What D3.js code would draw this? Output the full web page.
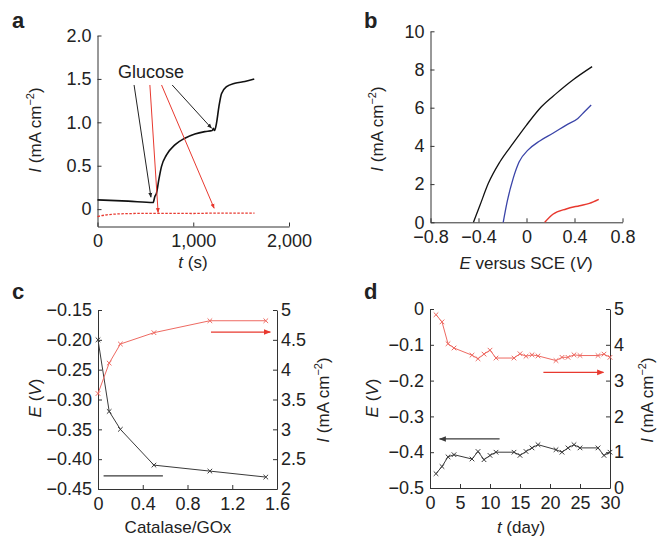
<!DOCTYPE html>
<html>
<head>
<meta charset="utf-8">
<script src="https://cdn.jsdelivr.net/npm/d3@7"></script>
<style>
  body { margin: 0; background: #fff; }
  text { font-family: "Liberation Sans", Arial, Helvetica, sans-serif; fill: #222; }
  .axis path, .axis line { stroke: #333; }
  .axis text { font-size: 18px; fill: #222; }
</style>
</head>
<body>
<div id="chart"></div>
<script>
// ---- panel a : current vs time ----
var aTime  = [0, 320, 581, 599, 616, 640, 668, 721, 808, 912, 1017, 1121, 1198, 1210, 1222, 1243, 1268, 1295, 1348, 1435, 1539, 1637];
var aBlack = [0.107, 0.092, 0.076, 0.145, 0.184, 0.337, 0.49, 0.625, 0.74, 0.817, 0.866, 0.893, 0.905, 0.93, 0.905, 0.99, 1.18, 1.33, 1.41, 1.45, 1.47, 1.50];
var aRedTime = [0, 100, 300, 600, 1000, 1200, 1640];
var aRed     = [-0.085, -0.065, -0.052, -0.048, -0.05, -0.046, -0.046];
// glucose arrows: [t0, I0, t1, I1, colour]
var aArrows = [[382, 1.43, 558, 0.138, "black"], [547, 1.43, 633, -0.039, "red"],
               [669, 1.43, 1218, 0.011, "red"], [780, 1.43, 1191, 0.932, "black"]];
var aYTicks = [0, 0.5, 1.0, 1.5, 2.0];
var aXTicks = [0, 1000, 2000];

// ---- panel b : polarisation curves ----
var bBlackE = [-0.442, -0.387, -0.318, -0.221, -0.111, 0.0, 0.124, 0.249, 0.386, 0.547];
var bBlackI = [0, 0.905, 2.04, 3.17, 4.14, 5.09, 6.05, 6.75, 7.45, 8.15];
var bBlueE  = [-0.194, -0.161, -0.111, -0.061, 0.014, 0.11, 0.22, 0.331, 0.428, 0.483, 0.539];
var bBlueI  = [0, 1.08, 2.3, 3.17, 3.79, 4.26, 4.66, 5.09, 5.44, 5.79, 6.14];
var bRedE   = [0.152, 0.22, 0.331, 0.442, 0.524, 0.602];
var bRedI   = [0, 0.42, 0.70, 0.87, 0.99, 1.2];
var bXTicks = [-0.8, -0.4, 0, 0.4, 0.8];
var bYTicks = [0, 2, 4, 6, 8, 10];

// ---- panel c : catalase / GOx ratio ----
var cRatio = [0, 0.1, 0.2, 0.5, 1.0, 1.5];
var cE     = [-0.20, -0.32, -0.35, -0.41, -0.42, -0.43];
var cI     = [3.6, 4.11, 4.43, 4.62, 4.82, 4.82];
var cXTicks = [0, 0.4, 0.8, 1.2, 1.6];
var cLTicks = [-0.45, -0.40, -0.35, -0.30, -0.25, -0.20, -0.15];
var cRTicks = [2, 2.5, 3, 3.5, 4, 4.5, 5];

// ---- panel d : stability over days ----
var dDay = [1, 2, 3, 4, 7, 8, 9, 10, 11, 14, 15, 16, 17, 18, 21, 22, 23, 24, 25, 28, 29, 30];
var dE   = [-0.46, -0.44, -0.413, -0.407, -0.419, -0.398, -0.421, -0.409, -0.40, -0.40, -0.409, -0.398,
            -0.388, -0.379, -0.393, -0.40, -0.388, -0.379, -0.388, -0.388, -0.409, -0.40];
var dI   = [4.84, 4.64, 4.03, 3.91, 3.71, 3.61, 3.74, 3.85, 3.63, 3.63, 3.75, 3.68,
            3.72, 3.69, 3.56, 3.65, 3.65, 3.72, 3.70, 3.70, 3.74, 3.65];
var dXTicks = [0, 5, 10, 15, 20, 25, 30];
var dLTicks = [-0.5, -0.4, -0.3, -0.2, -0.1, 0];
var dRTicks = [0, 1, 2, 3, 4, 5];

var RED = "#e8392f", LRED = "#ee6a62", BLUE = "#3a44a8", DARK = "#3a3a3a";

var svg = d3.select("#chart").append("svg")
  .attr("width", 659).attr("height", 538);

var defs = svg.append("defs");
[["ahBlack", "#222", 5], ["ahRed", RED, 5], ["ahRedBig", RED, 7], ["ahDark", DARK, 7]].forEach(function(m) {
  defs.append("marker")
    .attr("id", m[0])
    .attr("viewBox", "0 0 10 10")
    .attr("refX", 9).attr("refY", 5)
    .attr("markerWidth", m[2]).attr("markerHeight", m[2])
    .attr("markerUnits", "userSpaceOnUse")
    .attr("orient", "auto")
    .append("path").attr("d", "M0,1L10,5L0,9Z").attr("fill", m[1]);
});

function fmt(d) { return d === 0 ? "0" : d3.format(",")(d); }

function leftAxis(scale, x, ticks, f) {
  svg.append("g").attr("class", "axis")
    .attr("transform", `translate(${x},0)`)
    .call(d3.axisLeft(scale).tickValues(ticks).tickSizeInner(-4).tickSizeOuter(0).tickPadding(6).tickFormat(f));
}
function rightAxis(scale, x, ticks, f) {
  svg.append("g").attr("class", "axis")
    .attr("transform", `translate(${x},0)`)
    .call(d3.axisRight(scale).tickValues(ticks).tickSizeInner(-4).tickSizeOuter(0).tickPadding(4).tickFormat(f));
}
function bottomAxis(scale, y, ticks, f) {
  svg.append("g").attr("class", "axis")
    .attr("transform", `translate(0,${y})`)
    .call(d3.axisBottom(scale).tickValues(ticks).tickSizeInner(-4).tickSizeOuter(0).tickPadding(8).tickFormat(f));
}

function ytitle(x, y, parts) {
  var t = svg.append("text")
    .attr("transform", `translate(${x},${y}) rotate(-90)`)
    .attr("text-anchor", "middle")
    .style("font-size", "17px");
  parts(t);
}
function currentTitle(t) {
  t.append("tspan").style("font-style", "italic").text("I");
  t.append("tspan").text(" (mA cm");
  t.append("tspan").attr("dy", -7).style("font-size", "11px").text("−2");
  t.append("tspan").attr("dy", 7).text(")");
}
function potentialTitle(t) {
  t.append("tspan").style("font-style", "italic").text("E");
  t.append("tspan").text(" (");
  t.append("tspan").style("font-style", "italic").text("V");
  t.append("tspan").text(")");
}

function panelLabel(x, y, s) {
  svg.append("text").attr("x", x).attr("y", y)
    .style("font-size", "22px").style("font-weight", "bold").text(s);
}

function crosses(xs, ys, sx, sy, colour) {
  svg.append("g").selectAll("path")
    .data(xs)
    .enter()
    .append("path")
    .attr("d", (d, i) => {
      var x = sx(d), y = sy(ys[i]), h = 2.3;
      return `M${x - h},${y - h}L${x + h},${y + h}M${x - h},${y + h}L${x + h},${y - h}`;
    })
    .attr("stroke", colour).attr("stroke-width", 1).attr("fill", "none");
}

function curve(xs, ys, sx, sy, colour, width, dash, smooth) {
  var line = d3.line().x(d => sx(d[0])).y(d => sy(d[1]));
  if (smooth) line.curve(d3.curveMonotoneX);
  svg.append("path")
    .datum(xs.map((d, i) => [d, ys[i]]))
    .attr("d", line)
    .attr("fill", "none")
    .attr("stroke", colour)
    .attr("stroke-width", width)
    .attr("stroke-dasharray", dash || null);
}

// ================= panel a =================
var ax = d3.scaleLinear().domain([0, 2000]).range([97.5, 289]);
var ay = d3.scaleLinear().domain([-0.2, 2.0]).range([226.5, 35.5]);
leftAxis(ay, 97.5, aYTicks, d => d === 0 ? "0" : d3.format(".1f")(d));
bottomAxis(ax, 226.5, aXTicks, fmt);
curve(aTime, aBlack, ax, ay, "#111", 1.6, null, true);
curve(aRedTime, aRed, ax, ay, RED, 1.3, "2.5,1.5", true);
aArrows.forEach(function(a) {
  svg.append("line")
    .attr("x1", ax(a[0])).attr("y1", ay(a[1]))
    .attr("x2", ax(a[2])).attr("y2", ay(a[3]))
    .attr("stroke", a[4] === "red" ? RED : "#222").attr("stroke-width", 1)
    .attr("marker-end", a[4] === "red" ? "url(#ahRed)" : "url(#ahBlack)");
});
svg.append("text").attr("x", ax(560)).attr("y", ay(1.51))
  .attr("text-anchor", "middle").style("font-size", "18px").text("Glucose");
ytitle(41, 130, currentTitle);
svg.append("text").attr("x", 193).attr("y", 268).attr("text-anchor", "middle").style("font-size", "17px")
  .call(t => {
    t.append("tspan").style("font-style", "italic").text("t");
    t.append("tspan").text(" (s)");
  });
panelLabel(12, 28, "a");

// ================= panel b =================
var bx = d3.scaleLinear().domain([-0.8, 0.8]).range([430.5, 622.5]);
var by = d3.scaleLinear().domain([0, 10]).range([222.3, 31.3]);
leftAxis(by, 430.5, bYTicks, fmt);
bottomAxis(bx, 222.3, bXTicks, d => d === 0 ? "0" : d3.format(".1f")(d));
curve(bBlackE, bBlackI, bx, by, "#111", 1.3, null, true);
curve(bBlueE, bBlueI, bx, by, BLUE, 1.3, null, true);
curve(bRedE, bRedI, bx, by, RED, 1.5, null, true);
ytitle(383, 129, currentTitle);
svg.append("text").attr("x", 526).attr("y", 269).attr("text-anchor", "middle").style("font-size", "17px")
  .call(t => {
    t.append("tspan").style("font-style", "italic").text("E");
    t.append("tspan").text(" versus SCE (");
    t.append("tspan").style("font-style", "italic").text("V");
    t.append("tspan").text(")");
  });
panelLabel(364, 28, "b");

// ================= panel c =================
var cx = d3.scaleLinear().domain([0, 1.6]).range([98, 277]);
var cyL = d3.scaleLinear().domain([-0.45, -0.15]).range([489, 310]);
var cyR = d3.scaleLinear().domain([2, 5]).range([489, 310]);
leftAxis(cyL, 98, cLTicks, d3.format(".2f"));
rightAxis(cyR, 277, cRTicks, d3.format(""));
bottomAxis(cx, 489, cXTicks, d => d === 0 ? "0" : d3.format(".1f")(d));
curve(cRatio, cE, cx, cyL, DARK, 1);
crosses(cRatio, cE, cx, cyL, DARK);
curve(cRatio, cI, cx, cyR, LRED, 1);
crosses(cRatio, cI, cx, cyR, LRED);
// series arrows
svg.append("line").attr("x1", cx(0.58)).attr("y1", cyL(-0.428)).attr("x2", cx(0.05)).attr("y2", cyL(-0.428))
  .attr("stroke", DARK).attr("stroke-width", 1.2);
svg.append("line").attr("x1", cx(1.01)).attr("y1", cyR(4.63)).attr("x2", cx(1.54)).attr("y2", cyR(4.63))
  .attr("stroke", RED).attr("stroke-width", 1.2).attr("marker-end", "url(#ahRedBig)");
ytitle(41, 398, potentialTitle);
ytitle(329, 400, currentTitle);
svg.append("text").attr("x", 178).attr("y", 533).attr("text-anchor", "middle").style("font-size", "17px")
  .text("Catalase/GOx");
panelLabel(12, 299, "c");

// ================= panel d =================
var dx = d3.scaleLinear().domain([0, 30]).range([430, 610]);
var dyL = d3.scaleLinear().domain([-0.5, 0]).range([488, 309]);
var dyR = d3.scaleLinear().domain([0, 5]).range([488, 309]);
leftAxis(dyL, 430, dLTicks, d => d === 0 ? "0" : d3.format(".1f")(d));
rightAxis(dyR, 610, dRTicks, d3.format(""));
bottomAxis(dx, 488, dXTicks, d3.format(""));
curve(dDay, dE, dx, dyL, DARK, 1);
crosses(dDay, dE, dx, dyL, DARK);
curve(dDay, dI, dx, dyR, LRED, 1);
crosses(dDay, dI, dx, dyR, LRED);
svg.append("line").attr("x1", dx(11.6)).attr("y1", dyL(-0.363)).attr("x2", dx(1.6)).attr("y2", dyL(-0.363))
  .attr("stroke", DARK).attr("stroke-width", 1.2).attr("marker-end", "url(#ahDark)");
svg.append("line").attr("x1", dx(18.9)).attr("y1", dyR(3.23)).attr("x2", dx(28.9)).attr("y2", dyR(3.23))
  .attr("stroke", RED).attr("stroke-width", 1.2).attr("marker-end", "url(#ahRedBig)");
ytitle(378, 398, potentialTitle);
ytitle(653, 400, currentTitle);
svg.append("text").attr("x", 521).attr("y", 533).attr("text-anchor", "middle").style("font-size", "17px")
  .call(t => {
    t.append("tspan").style("font-style", "italic").text("t");
    t.append("tspan").text(" (day)");
  });
panelLabel(364, 299, "d");
</script>
</body>
</html>
